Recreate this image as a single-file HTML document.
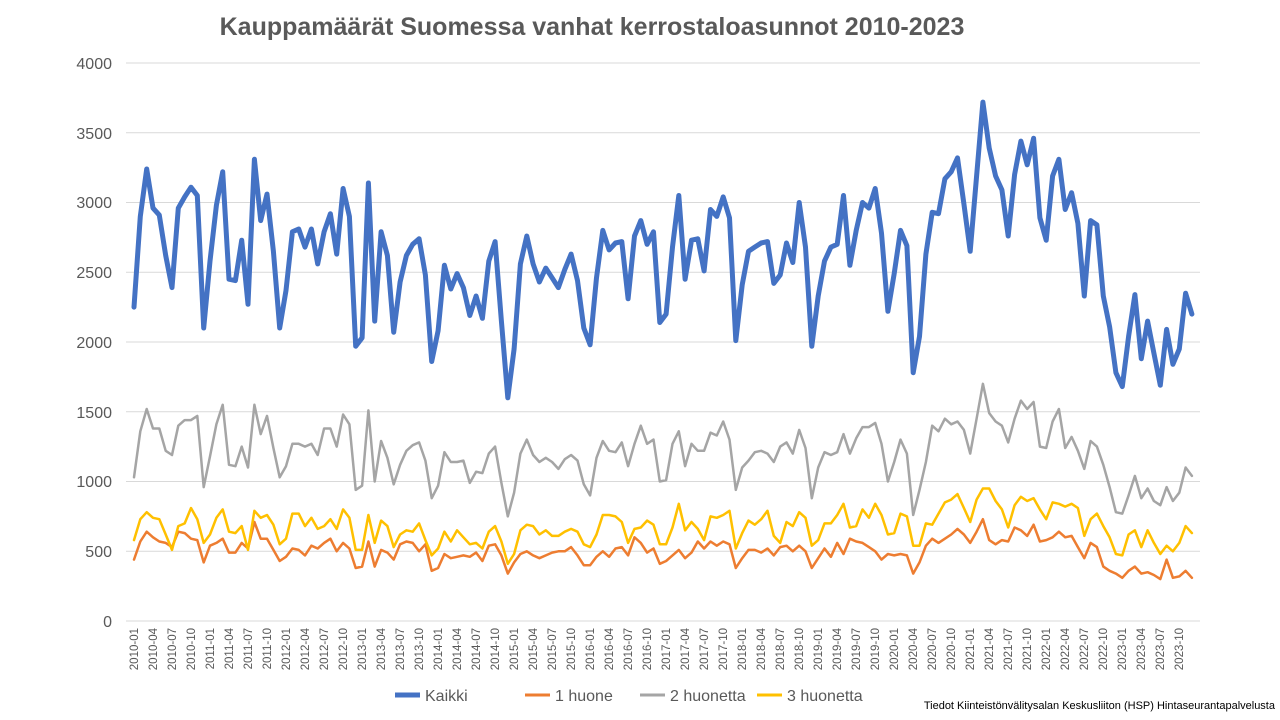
<!DOCTYPE html>
<html><head><meta charset="utf-8"><style>
html,body{margin:0;padding:0;background:#fff;}
svg{display:block;font-family:"Liberation Sans",sans-serif;}
</style></head><body>
<svg id="c" width="1280" height="720" viewBox="0 0 1280 720" xmlns="http://www.w3.org/2000/svg">
<text x="592" y="35" text-anchor="middle" font-size="25" font-weight="bold" fill="#595959">Kauppamäärät Suomessa vanhat kerrostaloasunnot 2010-2023</text>
<g stroke="#d9d9d9" stroke-width="1">
<line x1="126" x2="1200" y1="63" y2="63"/><line x1="126" x2="1200" y1="132.75" y2="132.75"/><line x1="126" x2="1200" y1="202.5" y2="202.5"/><line x1="126" x2="1200" y1="272.25" y2="272.25"/><line x1="126" x2="1200" y1="342" y2="342"/><line x1="126" x2="1200" y1="411.75" y2="411.75"/><line x1="126" x2="1200" y1="481.5" y2="481.5"/><line x1="126" x2="1200" y1="551.25" y2="551.25"/><line x1="126" x2="1200" y1="621" y2="621"/>
</g>
<g font-size="16" fill="#595959" text-anchor="end">
<text x="112" y="69">4000</text><text x="112" y="139">3500</text><text x="112" y="208">3000</text><text x="112" y="278">2500</text><text x="112" y="348">2000</text><text x="112" y="418">1500</text><text x="112" y="487">1000</text><text x="112" y="557">500</text><text x="112" y="627">0</text>
</g>
<g font-size="11.5" fill="#595959" text-anchor="end">
<text transform="translate(138,628) rotate(-90)">2010-01</text>
<text transform="translate(157,628) rotate(-90)">2010-04</text>
<text transform="translate(176,628) rotate(-90)">2010-07</text>
<text transform="translate(195,628) rotate(-90)">2010-10</text>
<text transform="translate(214,628) rotate(-90)">2011-01</text>
<text transform="translate(233,628) rotate(-90)">2011-04</text>
<text transform="translate(252,628) rotate(-90)">2011-07</text>
<text transform="translate(271,628) rotate(-90)">2011-10</text>
<text transform="translate(290,628) rotate(-90)">2012-01</text>
<text transform="translate(309,628) rotate(-90)">2012-04</text>
<text transform="translate(328,628) rotate(-90)">2012-07</text>
<text transform="translate(347,628) rotate(-90)">2012-10</text>
<text transform="translate(366,628) rotate(-90)">2013-01</text>
<text transform="translate(385,628) rotate(-90)">2013-04</text>
<text transform="translate(404,628) rotate(-90)">2013-07</text>
<text transform="translate(423,628) rotate(-90)">2013-10</text>
<text transform="translate(442,628) rotate(-90)">2014-01</text>
<text transform="translate(461,628) rotate(-90)">2014-04</text>
<text transform="translate(480,628) rotate(-90)">2014-07</text>
<text transform="translate(499,628) rotate(-90)">2014-10</text>
<text transform="translate(518,628) rotate(-90)">2015-01</text>
<text transform="translate(537,628) rotate(-90)">2015-04</text>
<text transform="translate(556,628) rotate(-90)">2015-07</text>
<text transform="translate(575,628) rotate(-90)">2015-10</text>
<text transform="translate(594,628) rotate(-90)">2016-01</text>
<text transform="translate(613,628) rotate(-90)">2016-04</text>
<text transform="translate(632,628) rotate(-90)">2016-07</text>
<text transform="translate(651,628) rotate(-90)">2016-10</text>
<text transform="translate(670,628) rotate(-90)">2017-01</text>
<text transform="translate(689,628) rotate(-90)">2017-04</text>
<text transform="translate(708,628) rotate(-90)">2017-07</text>
<text transform="translate(727,628) rotate(-90)">2017-10</text>
<text transform="translate(746,628) rotate(-90)">2018-01</text>
<text transform="translate(765,628) rotate(-90)">2018-04</text>
<text transform="translate(784,628) rotate(-90)">2018-07</text>
<text transform="translate(803,628) rotate(-90)">2018-10</text>
<text transform="translate(822,628) rotate(-90)">2019-01</text>
<text transform="translate(841,628) rotate(-90)">2019-04</text>
<text transform="translate(860,628) rotate(-90)">2019-07</text>
<text transform="translate(879,628) rotate(-90)">2019-10</text>
<text transform="translate(898,628) rotate(-90)">2020-01</text>
<text transform="translate(917,628) rotate(-90)">2020-04</text>
<text transform="translate(936,628) rotate(-90)">2020-07</text>
<text transform="translate(955,628) rotate(-90)">2020-10</text>
<text transform="translate(974,628) rotate(-90)">2021-01</text>
<text transform="translate(993,628) rotate(-90)">2021-04</text>
<text transform="translate(1012,628) rotate(-90)">2021-07</text>
<text transform="translate(1031,628) rotate(-90)">2021-10</text>
<text transform="translate(1050,628) rotate(-90)">2022-01</text>
<text transform="translate(1069,628) rotate(-90)">2022-04</text>
<text transform="translate(1088,628) rotate(-90)">2022-07</text>
<text transform="translate(1107,628) rotate(-90)">2022-10</text>
<text transform="translate(1126,628) rotate(-90)">2023-01</text>
<text transform="translate(1145,628) rotate(-90)">2023-04</text>
<text transform="translate(1164,628) rotate(-90)">2023-07</text>
<text transform="translate(1183,628) rotate(-90)">2023-10</text>
</g>
<g id="series" fill="none" stroke-linejoin="round" stroke-linecap="round"></g>
<line x1="395" x2="420" y1="695" y2="695" stroke="#4472c4" stroke-width="5"/>
<text x="425" y="701" font-size="16" fill="#595959">Kaikki</text>
<line x1="525" x2="550" y1="695" y2="695" stroke="#ed7d31" stroke-width="3"/>
<text x="555" y="701" font-size="16" fill="#595959">1 huone</text>
<line x1="640" x2="665" y1="695" y2="695" stroke="#a5a5a5" stroke-width="3"/>
<text x="670" y="701" font-size="16" fill="#595959">2 huonetta</text>
<line x1="757" x2="782" y1="695" y2="695" stroke="#ffc000" stroke-width="3"/>
<text x="787" y="701" font-size="16" fill="#595959">3 huonetta</text>
<text x="1275" y="709" font-size="11" fill="#000" text-anchor="end">Tiedot Kiinteistönvälitysalan Keskusliiton (HSP) Hintaseurantapalvelusta</text>
</svg>
<script>
var blue=[2250,2900,3240,2960,2910,2620,2390,2960,3040,3110,3050,2100,2580,2980,3220,2450,2440,2730,2270,3310,2870,3060,2650,2100,2370,2790,2810,2680,2810,2560,2790,2920,2630,3100,2900,1970,2030,3140,2150,2790,2620,2070,2430,2620,2700,2740,2480,1860,2080,2550,2380,2490,2390,2190,2330,2170,2580,2720,2150,1600,1950,2560,2760,2560,2430,2530,2460,2390,2520,2630,2440,2100,1980,2460,2800,2660,2710,2720,2310,2760,2870,2700,2790,2140,2200,2680,3050,2450,2730,2740,2510,2950,2900,3040,2890,2010,2410,2650,2680,2710,2720,2420,2480,2710,2570,3000,2680,1970,2330,2580,2680,2700,3050,2550,2800,3000,2960,3100,2780,2220,2490,2800,2690,1780,2040,2630,2930,2920,3170,3220,3320,2990,2650,3190,3720,3390,3190,3090,2760,3200,3440,3270,3460,2890,2730,3190,3310,2950,3070,2850,2330,2870,2840,2330,2110,1780,1680,2040,2340,1880,2150,1920,1690,2090,1840,1950,2350,2200];
var gray=[1030,1360,1520,1380,1380,1220,1190,1400,1440,1440,1470,960,1180,1410,1550,1120,1110,1250,1100,1550,1340,1470,1240,1030,1110,1270,1270,1250,1270,1190,1380,1380,1250,1480,1410,940,970,1510,1000,1290,1170,980,1120,1220,1260,1280,1150,880,970,1210,1140,1140,1150,990,1070,1060,1200,1250,990,750,920,1200,1300,1190,1140,1170,1140,1090,1160,1190,1150,980,900,1170,1290,1220,1210,1280,1110,1270,1400,1270,1300,1000,1010,1270,1360,1110,1270,1220,1220,1350,1330,1430,1300,940,1100,1150,1210,1220,1200,1140,1250,1280,1200,1370,1240,880,1100,1210,1190,1210,1340,1200,1310,1390,1390,1420,1270,1000,1140,1300,1200,760,940,1140,1400,1360,1450,1410,1430,1370,1200,1450,1700,1490,1430,1400,1280,1450,1580,1520,1570,1250,1240,1430,1520,1240,1320,1220,1090,1290,1250,1120,960,780,770,900,1040,880,950,860,830,960,860,920,1100,1040];
var yel=[580,730,780,740,730,620,510,680,700,810,730,560,620,740,800,640,630,680,510,790,740,760,690,550,590,770,770,680,740,660,680,730,660,800,740,510,510,760,560,720,680,530,620,650,640,700,580,470,520,640,570,650,600,550,560,520,640,680,570,410,480,650,690,680,620,650,610,610,640,660,640,550,530,620,760,760,750,710,560,660,670,720,690,550,550,670,840,650,710,660,580,750,740,760,790,520,630,720,690,730,790,610,560,710,680,780,740,540,580,700,700,760,840,670,680,800,740,840,760,620,630,770,750,540,540,700,690,770,850,870,910,810,710,870,950,950,860,800,670,830,890,860,880,800,730,850,840,820,840,810,610,730,770,680,600,480,470,620,650,530,650,560,480,540,500,560,680,630];
var ora=[440,570,640,600,570,560,530,640,630,590,580,420,540,560,590,490,490,560,520,710,590,590,510,430,460,520,510,470,540,520,560,590,500,560,520,380,390,570,390,510,490,440,550,570,560,500,550,360,380,480,450,460,470,460,490,430,540,550,470,340,420,480,500,470,450,470,490,500,500,530,470,400,400,460,500,460,520,530,470,600,560,490,520,410,430,470,510,450,490,570,520,570,540,570,550,380,450,510,510,490,520,470,530,540,500,540,500,380,450,520,460,560,480,590,570,560,530,500,440,480,470,480,470,340,420,540,590,560,590,620,660,620,560,640,730,580,550,580,570,670,650,610,690,570,580,600,640,600,610,530,450,560,530,390,360,340,310,360,390,340,350,330,300,440,310,320,360,310];
var g=document.getElementById('series');
function add(d,c,w){var p=d.map(function(v,i){return (134+i*6.335).toFixed(1)+','+(621-v*0.1395).toFixed(1);}).join(' ');
var e=document.createElementNS('http://www.w3.org/2000/svg','polyline');e.setAttribute('points',p);e.setAttribute('stroke',c);e.setAttribute('stroke-width',w);g.appendChild(e);}
add(blue,'#4472c4',5);add(ora,'#ed7d31',2.5);add(gray,'#a5a5a5',2.5);add(yel,'#ffc000',2.5);
</script>
</body></html>
